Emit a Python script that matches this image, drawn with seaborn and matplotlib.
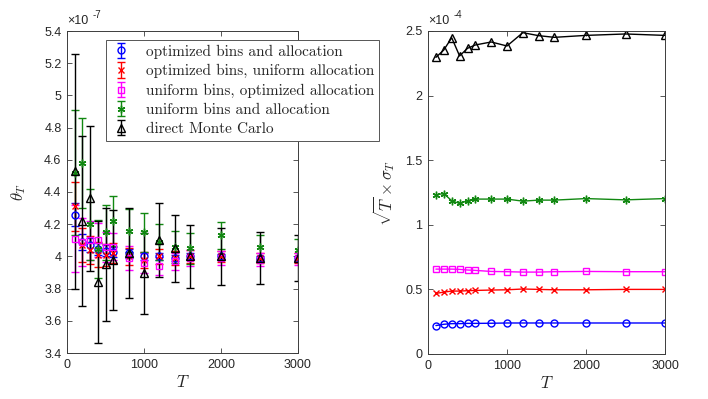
import numpy as np
import pandas as pd
import matplotlib
matplotlib.use("Agg")
import matplotlib.pyplot as plt
import seaborn as sns

# ---------------- data ----------------
T = [100, 200, 300, 400, 500, 600, 800, 1000, 1200, 1400, 1600, 2000, 2500, 3000]

labels = ["optimized bins and allocation",
          "optimized bins, uniform allocation",
          "uniform bins, optimized allocation",
          "uniform bins and allocation",
          "direct Monte Carlo"]

# left panel: theta_T (x 1e-7) and error bar half-widths (x 1e-7)
theta_opt = [4.26, 4.09, 4.07, 4.045, 4.035, 4.025, 4.02, 4.00, 4.00, 3.99, 4.00, 4.00, 3.99, 3.99]
err_opt = [0.07, 0.052, 0.043, 0.037, 0.034, 0.031, 0.027, 0.024, 0.022, 0.02, 0.019, 0.017, 0.015, 0.014]
theta_optbin = [4.31, 4.07, 4.04, 4.01, 4.01, 4.02, 4.00, 3.98, 4.00, 3.99, 4.00, 4.00, 3.99, 3.99]
err_optbin = [0.15, 0.107, 0.089, 0.077, 0.07, 0.064, 0.055, 0.05, 0.046, 0.043, 0.04, 0.035, 0.032, 0.029]
theta_optalloc = [4.11, 4.09, 4.10, 4.10, 4.06, 4.06, 3.99, 3.96, 3.94, 3.97, 3.99, 3.99, 3.98, 3.985]
err_optalloc = [0.21, 0.148, 0.12, 0.105, 0.092, 0.084, 0.072, 0.064, 0.058, 0.054, 0.051, 0.045, 0.04, 0.037]
theta_unif = [4.52, 4.58, 4.20, 4.045, 4.15, 4.22, 4.16, 4.15, 4.09, 4.06, 4.05, 4.13, 4.06, 4.04]
err_unif = [0.39, 0.28, 0.22, 0.18, 0.17, 0.155, 0.135, 0.12, 0.11, 0.10, 0.095, 0.085, 0.075, 0.07]
theta_mc = [4.53, 4.22, 4.36, 3.84, 3.95, 3.98, 4.02, 3.895, 4.10, 4.05, 4.00, 4.00, 3.99, 3.99]
err_mc = [0.73, 0.53, 0.45, 0.38, 0.35, 0.31, 0.28, 0.25, 0.23, 0.21, 0.195, 0.175, 0.16, 0.145]

# right panel: sqrt(T) * sigma_T (x 1e-4)
sig_opt = [0.22, 0.23, 0.235, 0.235, 0.237, 0.237, 0.238, 0.24, 0.24, 0.24, 0.24, 0.24, 0.24, 0.24]
sig_optbin = [0.469, 0.479, 0.487, 0.487, 0.49, 0.492, 0.495, 0.497, 0.503, 0.50, 0.497, 0.497, 0.50, 0.50]
sig_optalloc = [0.657, 0.657, 0.657, 0.655, 0.65, 0.647, 0.639, 0.637, 0.634, 0.634, 0.637, 0.639, 0.637, 0.637]
sig_unif = [1.232, 1.242, 1.186, 1.165, 1.186, 1.199, 1.199, 1.199, 1.183, 1.191, 1.191, 1.203, 1.193, 1.203]
sig_mc = [2.296, 2.353, 2.448, 2.307, 2.366, 2.392, 2.415, 2.384, 2.487, 2.464, 2.451, 2.466, 2.477, 2.466]

left_ticks = [3.4, 3.6, 3.8, 4.0, 4.2, 4.4, 4.6, 4.8, 5.0, 5.2, 5.4]
left_ticklabels = ["3.4", "3.6", "3.8", "4", "4.2", "4.4", "4.6", "4.8", "5", "5.2", "5.4"]
right_ticks = [0, 0.5, 1.0, 1.5, 2.0, 2.5]
right_ticklabels = ["0", "0.5", "1", "1.5", "2", "2.5"]
x_ticks = [0, 1000, 2000, 3000]
x_ticklabels = ["0", "1000", "2000", "3000"]

# ---------------- style ----------------
sns.set_theme(style="white")
plt.rcParams["font.family"] = ["Liberation Sans", "DejaVu Sans"]
plt.rcParams["mathtext.fontset"] = "cm"

colors = ["#0000ff", "#ff0000", "#ff00ff", "#118811", "#000000"]
markers = ["o", "x", "s", (6, 2, 0), "^"]
msizes = [5, 4.5, 4.5, 5.5, 6]

thetas = [theta_opt, theta_optbin, theta_optalloc, theta_unif, theta_mc]
errs = [err_opt, err_optbin, err_optalloc, err_unif, err_mc]
sigs = [sig_opt, sig_optbin, sig_optalloc, sig_unif, sig_mc]

fig = plt.figure(figsize=(7.08, 3.99), dpi=100)
W, H = 708, 399
ax1 = fig.add_axes([67 / W, (H - 353) / H, 231 / W, 322 / H])
ax2 = fig.add_axes([428 / W, (H - 354) / H, 237 / W, 323 / H])

spine_col = "#3c3c3c"

# left panel
handles = []
for th, er, c, m, ms, lab in zip(thetas, errs, colors, markers, msizes, labels):
    h = ax1.errorbar(T, th, yerr=er, marker=m, color=c, ecolor=c, mfc="none", mec=c,
                     ms=ms, mew=1.0, elinewidth=1.0, capsize=2.6, capthick=1.0,
                     linestyle="none", label=lab)
    handles.append(h)

ax1.set_xlim(0, 3000)
ax1.set_ylim(3.4, 5.4)
ax1.set_xticks(x_ticks)
ax1.set_xticklabels(x_ticklabels)
ax1.set_yticks(left_ticks)
ax1.set_yticklabels(left_ticklabels)
ax1.set_xlabel(r"$T$", fontsize=12)
ax1.set_ylabel(r"$\theta_T$", fontsize=12)
ax1.yaxis.set_label_coords(-0.17, 0.5)
ax1.xaxis.set_label_coords(0.5, -0.065)

# right panel (seaborn lines)
for sg, c, m, ms in zip(sigs, colors, markers, msizes):
    df = pd.DataFrame({"T": T, "v": sg})
    sns.lineplot(data=df, x="T", y="v", ax=ax2, color=c, marker=m, markersize=ms,
                 markerfacecolor="none", markeredgecolor=c, markeredgewidth=1.0,
                 linewidth=1.0, legend=False)

ax2.set_xlim(0, 3000)
ax2.set_ylim(0, 2.5)
ax2.set_xticks(x_ticks)
ax2.set_xticklabels(x_ticklabels)
ax2.set_yticks(right_ticks)
ax2.set_yticklabels(right_ticklabels)
ax2.set_xlabel(r"$T$", fontsize=12)
ax2.set_ylabel(r"$\sqrt{T}\times\sigma_T$", fontsize=12)
ax2.yaxis.set_label_coords(-0.13, 0.5)
ax2.xaxis.set_label_coords(0.5, -0.065)

for ax in (ax1, ax2):
    ax.tick_params(direction="in", bottom=True, left=True, top=True, right=True,
                   length=3.5, width=0.6, color=spine_col, labelsize=9, pad=4,
                   labelcolor="#262626")
    for s in ax.spines.values():
        s.set_color(spine_col)
        s.set_linewidth(0.7)
    ax.set_facecolor("white")

# offset exponents
for ax, exp in ((ax1, "-7"), (ax2, "-4")):
    ax.annotate("\u00d710", xy=(0, 1), xycoords="axes fraction", xytext=(0, 3),
                textcoords="offset points", ha="left", va="bottom", fontsize=9,
                color="#262626")
    ax.annotate(exp, xy=(0, 1), xycoords="axes fraction", xytext=(18.5, 8),
                textcoords="offset points", ha="left", va="bottom", fontsize=7,
                color="#262626")

leg = ax1.legend(handles=handles, labels=labels, loc="upper left",
                 bbox_to_anchor=(106.5 / W, 1 - 40 / H),
                 bbox_transform=fig.transFigure,
                 prop={"family": "cmr10", "size": 11}, frameon=True,
                 fancybox=False, edgecolor="#555555", framealpha=1,
                 borderpad=0.3, labelspacing=0.35, handlelength=1.3,
                 handletextpad=1.0, borderaxespad=0)
leg.get_frame().set_linewidth(0.7)
leg.set_zorder(10)

fig.savefig("out.png", dpi=100)
